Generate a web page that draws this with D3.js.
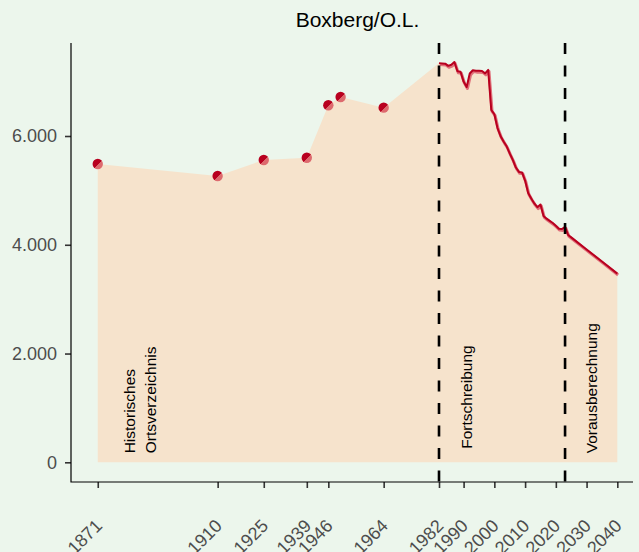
<!DOCTYPE html>
<html>
<head>
<meta charset="utf-8">
<script src="https://cdn.jsdelivr.net/npm/d3@7"></script>
<style>
  body { margin: 0; background: #ecf6ec; }
  svg { display: block; font-family: "Liberation Sans", Arial, sans-serif; }
</style>
</head>
<body>
<svg id="chart" width="639" height="552"></svg>
<script>
// historische Werte (Ortsverzeichnis)
var histYears = [1871, 1910, 1925, 1939, 1946, 1950, 1964];
var histValues = [5485, 5265, 5559, 5601, 6565, 6718, 6521];

// Fortschreibung, jaehrlich
var fortYears = [1982, 1983, 1984, 1985, 1986, 1987, 1988, 1989, 1990, 1991,
                 1992, 1993, 1994, 1995, 1996, 1997, 1998, 1999, 2000, 2001,
                 2002, 2003, 2004, 2005, 2006, 2007, 2008, 2009, 2010, 2011,
                 2012, 2013, 2014, 2015, 2016, 2017, 2018, 2019, 2020, 2021,
                 2022, 2023];
var fortValues = [7340, 7335, 7330, 7290, 7310, 7360, 7190, 7180, 7000, 6900,
                  7150, 7210, 7200, 7200, 7195, 7150, 7215, 6480, 6400, 6150,
                  6000, 5900, 5810, 5680, 5560, 5420, 5340, 5330, 5180, 4950,
                  4850, 4760, 4690, 4740, 4530, 4480, 4440, 4400, 4350, 4295,
                  4290, 4330];

// Vorausberechnung
var projYears = [2024, 2025, 2030, 2035, 2040];
var projValues = [4180, 4136, 3914, 3692, 3470];

var xTicks = [1871, 1910, 1925, 1939, 1946, 1964, 1982, 1990, 2000, 2010, 2020, 2030, 2040];
var yTicks = [0, 2000, 4000, 6000];
var breakYears = [1982, 2023];
var title = "Boxberg/O.L.";
var labels = [
  { year: 1883, value: 165, lines: ["Historisches", "Ortsverzeichnis"] },
  { year: 1992.8, value: 250, lines: ["Fortschreibung"] },
  { year: 2033.5, value: 165, lines: ["Vorausberechnung"] }
];

var svg = d3.select("#chart");
var mLeft = 71, mRight = 633, mTop = 43, mBottom = 482;

var x = d3.scaleLinear().domain([1862.3, 2045.1]).range([mLeft, mRight]);
var y = d3.scaleLinear().domain([-362, 7710]).range([mBottom, mTop]);

var hist = histYears.map(function(d, i) { return { year: d, value: histValues[i] }; });
var fort = fortYears.map(function(d, i) { return { year: d, value: fortValues[i] }; });
var proj = projYears.map(function(d, i) { return { year: d, value: projValues[i] }; });
var lineData = fort.concat(proj);
var all = hist.concat(lineData);

svg.append("rect").attr("width", 639).attr("height", 552).attr("fill", "#ecf6ec");

var defs = svg.append("defs");
var grad = defs.append("linearGradient").attr("id", "pt")
    .attr("x1", 0).attr("y1", 0).attr("x2", 1).attr("y2", 1);
grad.append("stop").attr("offset", "0%").attr("stop-color", "#b8001f");
grad.append("stop").attr("offset", "55%").attr("stop-color", "#b8001f");
grad.append("stop").attr("offset", "55%").attr("stop-color", "#dd6a6e");
grad.append("stop").attr("offset", "100%").attr("stop-color", "#dd6a6e");

// Flaeche
svg.append("path")
    .datum(all)
    .attr("fill", "#f6e3cc")
    .attr("d", d3.area()
        .x(function(d) { return x(d.year); })
        .y0(y(0))
        .y1(function(d) { return y(d.value); }));

// Linie mit Schatten
var line = d3.line()
    .x(function(d) { return x(d.year); })
    .y(function(d) { return y(d.value); });

svg.append("path")
    .datum(lineData)
    .attr("fill", "none")
    .attr("stroke", "#e0707a")
    .attr("stroke-width", 3)
    .attr("stroke-linejoin", "round")
    .attr("transform", "translate(0.8,1.4)")
    .attr("d", line);

svg.append("path")
    .datum(lineData)
    .attr("fill", "none")
    .attr("stroke", "#b8001f")
    .attr("stroke-width", 2)
    .attr("stroke-linejoin", "round")
    .attr("d", line);

// Punkte
svg.selectAll("circle.pt")
    .data(hist)
    .enter()
    .append("circle")
    .attr("class", "pt")
    .attr("cx", function(d) { return x(d.year); })
    .attr("cy", function(d) { return y(d.value); })
    .attr("r", 5.2)
    .attr("fill", "url(#pt)");

// Trennlinien
svg.selectAll("line.brk")
    .data(breakYears)
    .enter()
    .append("line")
    .attr("class", "brk")
    .attr("x1", function(d) { return x(d); })
    .attr("x2", function(d) { return x(d); })
    .attr("y1", mTop)
    .attr("y2", mBottom)
    .attr("stroke", "#000")
    .attr("stroke-width", 2.6)
    .attr("stroke-dasharray", "11,11.5");

// Beschriftungen
labels.forEach(function(l) {
  var t = svg.append("text")
      .attr("transform", "translate(" + x(l.year) + "," + y(l.value) + ") rotate(-90)")
      .attr("font-size", 15.5)
      .attr("fill", "#000");
  l.lines.forEach(function(s, i) {
    t.append("tspan").attr("x", 0).attr("dy", i === 0 ? 0 : "1.35em").text(s);
  });
});

// Achsen
var de = d3.formatLocale({ decimal: ",", thousands: ".", grouping: [3], currency: ["", ""] });

var yAxis = svg.append("g")
    .attr("transform", "translate(" + mLeft + ",0)")
    .call(d3.axisLeft(y).tickValues(yTicks).tickFormat(de.format(",")).tickSizeInner(6).tickSizeOuter(0).tickPadding(8));
yAxis.select(".domain").remove();
yAxis.selectAll(".tick line").attr("stroke", "#333").attr("stroke-width", 1.6);
yAxis.selectAll(".tick text").attr("font-size", 18).attr("fill", "#4d4d4d").attr("font-family", null);

var xAxis = svg.append("g")
    .attr("transform", "translate(0," + mBottom + ")")
    .call(d3.axisBottom(x).tickValues(xTicks).tickFormat(d3.format("d")).tickSizeInner(6).tickSizeOuter(0));
xAxis.select(".domain").remove();
xAxis.selectAll(".tick line").attr("stroke", "#333").attr("stroke-width", 1.6);
xAxis.selectAll(".tick text")
    .attr("font-size", 18)
    .attr("fill", "#4d4d4d")
    .attr("font-family", null)
    .attr("text-anchor", "end")
    .attr("y", 0)
    .attr("dy", "0.71em")
    .attr("transform", "translate(-4,36) rotate(-45)");

svg.append("path")
    .attr("d", "M" + mLeft + "," + mTop + "V" + mBottom + "H" + mRight)
    .attr("fill", "none")
    .attr("stroke", "#000")
    .attr("stroke-width", 1.2);

svg.append("text")
    .attr("x", 357.5)
    .attr("y", 27)
    .attr("text-anchor", "middle")
    .attr("font-size", 21)
    .attr("fill", "#000")
    .text(title);
</script>
</body>
</html>
